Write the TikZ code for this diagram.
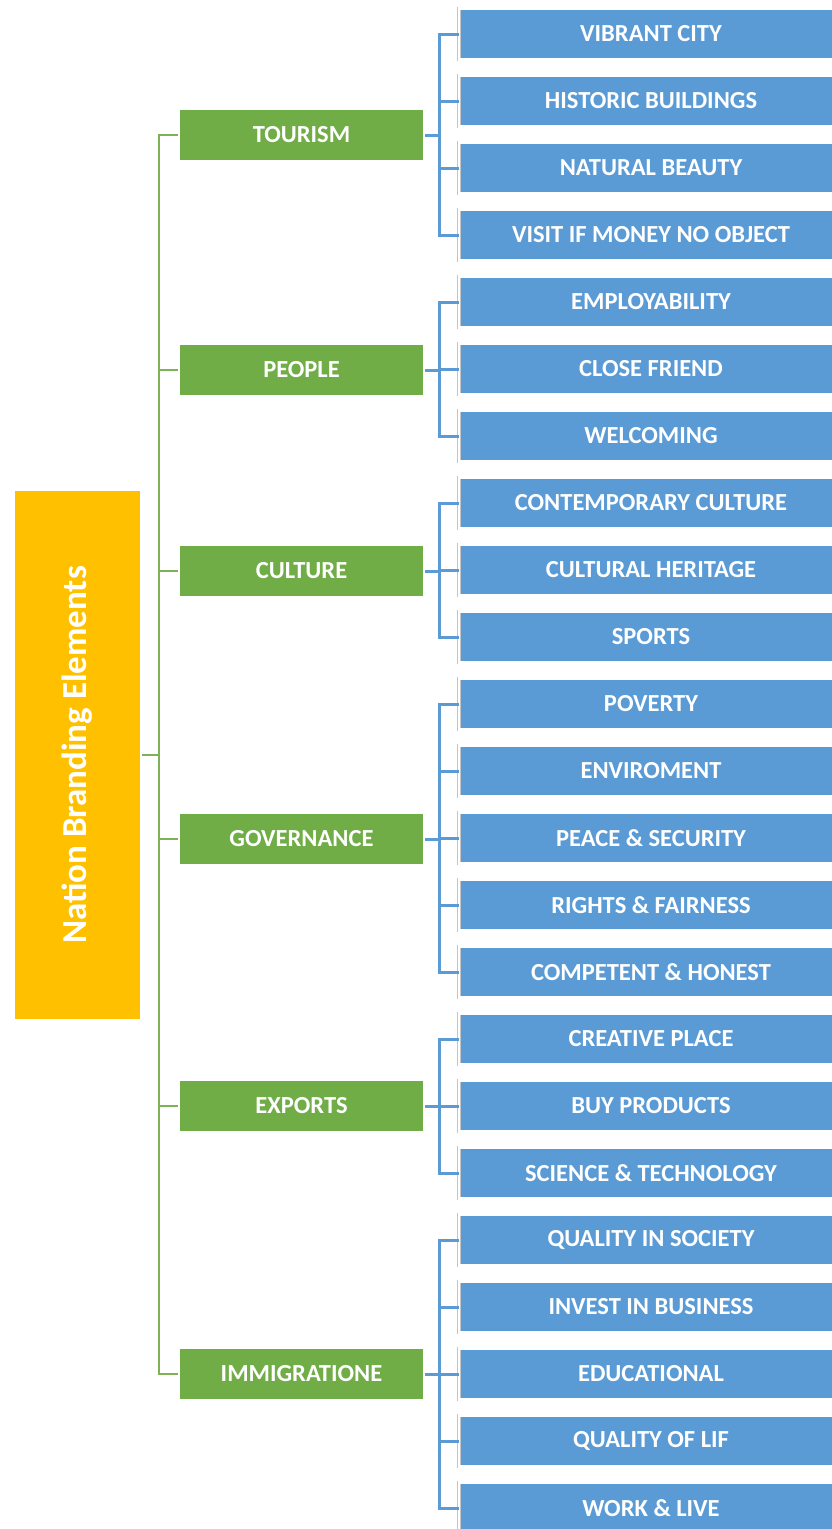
\documentclass[tikz,border=0pt]{standalone}
\usepackage{fontspec}
\setmainfont{Carlito}
\definecolor{rootfill}{HTML}{FFC000}
\definecolor{grnfill}{HTML}{70AD47}
\definecolor{blufill}{HTML}{5B9BD5}
\definecolor{rimgray}{HTML}{C4C4C4}
\definecolor{grnline}{HTML}{7DB257}
\definecolor{bluline}{HTML}{5B9BD5}
\tikzset{
  box/.style={draw=rimgray, line width=0.8pt, double=white, double distance=2.2pt,
    text=white, font=\bfseries\fontsize{24.5}{28}\selectfont, inner sep=0pt},
  rootbox/.style={box, fill=rootfill, minimum width=128, minimum height=531},
  catbox/.style={box, fill=grnfill, minimum width=246, minimum height=53},
  itembox/.style={box, fill=blufill, minimum width=384, minimum height=51},
  gline/.style={grnline, line width=2.8pt},
  bline/.style={bluline, line width=3pt},
}
\begin{document}
\begin{tikzpicture}[x=1pt,y=-1pt]
\useasboundingbox (0,0) rectangle (832,1529);
% root
\node[rootbox] (root) at (77.5,755) {\rotatebox{90}{\fontsize{35}{38}\selectfont Nation Branding Elements}};
% categories
\node[catbox] (tourism) at (301.5,135) {TOURISM};
\node[catbox] (people) at (301.5,370) {PEOPLE};
\node[catbox] (culture) at (301.5,571) {CULTURE};
\node[catbox] (governance) at (301.5,839) {GOVERNANCE};
\node[catbox] (exports) at (301.5,1106) {EXPORTS};
\node[catbox] (immigration) at (301.5,1374) {IMMIGRATIONE};
% items
\node[itembox] (vibrant) at (651,34) {VIBRANT CITY};
\node[itembox] (historic) at (651,101) {HISTORIC BUILDINGS};
\node[itembox] (natural) at (651,168) {NATURAL BEAUTY};
\node[itembox] (visit) at (651,235) {VISIT IF MONEY NO OBJECT};
\node[itembox] (employ) at (651,302) {EMPLOYABILITY};
\node[itembox] (friend) at (651,369) {CLOSE FRIEND};
\node[itembox] (welcoming) at (651,436) {WELCOMING};
\node[itembox] (contemp) at (651,503) {CONTEMPORARY CULTURE};
\node[itembox] (heritage) at (651,570) {CULTURAL HERITAGE};
\node[itembox] (sports) at (651,637) {SPORTS};
\node[itembox] (poverty) at (651,704) {POVERTY};
\node[itembox] (environ) at (651,771) {ENVIROMENT};
\node[itembox] (peace) at (651,838) {PEACE \& SECURITY};
\node[itembox] (rights) at (651,905) {RIGHTS \& FAIRNESS};
\node[itembox] (honest) at (651,972) {COMPETENT \& HONEST};
\node[itembox] (creative) at (651,1039) {CREATIVE PLACE};
\node[itembox] (buy) at (651,1106) {BUY PRODUCTS};
\node[itembox] (science) at (651,1173) {SCIENCE \& TECHNOLOGY};
\node[itembox] (quality) at (651,1240) {QUALITY IN SOCIETY};
\node[itembox] (invest) at (651,1307) {INVEST IN BUSINESS};
\node[itembox] (education) at (651,1374) {EDUCATIONAL};
\node[itembox] (life) at (651,1441) {QUALITY OF LIF};
\node[itembox] (work) at (651,1508) {WORK \& LIVE};
% root to categories
\draw[gline] (root.east) -- ([xshift=17]root.east);
\draw[gline] (tourism.west) -| ([xshift=17]root.east);
\draw[gline] (people.west) -| ([xshift=17]root.east);
\draw[gline] (culture.west) -| ([xshift=17]root.east);
\draw[gline] (governance.west) -| ([xshift=17]root.east);
\draw[gline] (exports.west) -| ([xshift=17]root.east);
\draw[gline] (immigration.west) -| ([xshift=17]root.east);
% categories to items
\draw[bline] (tourism.east) -- ([xshift=15]tourism.east);
\draw[bline] (vibrant.west) -| ([xshift=15]tourism.east);
\draw[bline] (historic.west) -| ([xshift=15]tourism.east);
\draw[bline] (natural.west) -| ([xshift=15]tourism.east);
\draw[bline] (visit.west) -| ([xshift=15]tourism.east);
\draw[bline] (people.east) -- ([xshift=15]people.east);
\draw[bline] (employ.west) -| ([xshift=15]people.east);
\draw[bline] (friend.west) -| ([xshift=15]people.east);
\draw[bline] (welcoming.west) -| ([xshift=15]people.east);
\draw[bline] (culture.east) -- ([xshift=15]culture.east);
\draw[bline] (contemp.west) -| ([xshift=15]culture.east);
\draw[bline] (heritage.west) -| ([xshift=15]culture.east);
\draw[bline] (sports.west) -| ([xshift=15]culture.east);
\draw[bline] (governance.east) -- ([xshift=15]governance.east);
\draw[bline] (poverty.west) -| ([xshift=15]governance.east);
\draw[bline] (environ.west) -| ([xshift=15]governance.east);
\draw[bline] (peace.west) -| ([xshift=15]governance.east);
\draw[bline] (rights.west) -| ([xshift=15]governance.east);
\draw[bline] (honest.west) -| ([xshift=15]governance.east);
\draw[bline] (exports.east) -- ([xshift=15]exports.east);
\draw[bline] (creative.west) -| ([xshift=15]exports.east);
\draw[bline] (buy.west) -| ([xshift=15]exports.east);
\draw[bline] (science.west) -| ([xshift=15]exports.east);
\draw[bline] (immigration.east) -- ([xshift=15]immigration.east);
\draw[bline] (quality.west) -| ([xshift=15]immigration.east);
\draw[bline] (invest.west) -| ([xshift=15]immigration.east);
\draw[bline] (education.west) -| ([xshift=15]immigration.east);
\draw[bline] (life.west) -| ([xshift=15]immigration.east);
\draw[bline] (work.west) -| ([xshift=15]immigration.east);
\end{tikzpicture}
\end{document}
